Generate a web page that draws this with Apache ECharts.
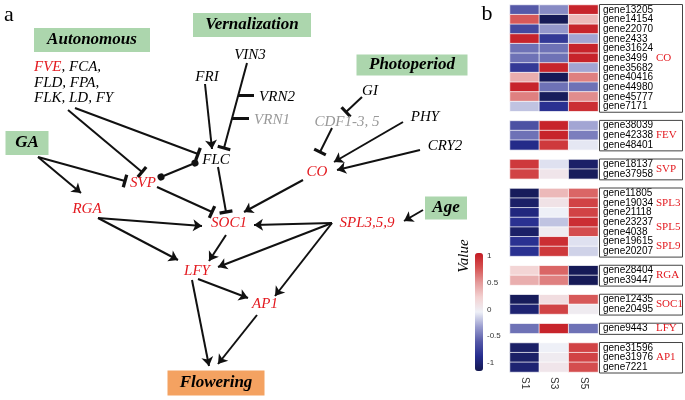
<!DOCTYPE html>
<html>
<head>
<meta charset="utf-8">
<script src="https://cdn.jsdelivr.net/npm/echarts@6/dist/echarts.min.js"></script>
<style>
  html, body { margin: 0; padding: 0; background: #fff; }
  #chart { width: 685px; height: 400px; }
</style>
</head>
<body>
<div id="chart"></div>
<script>
// ---------- panel b : heatmap ----------
const samples = ['S1', 'S3', 'S5'];
const genes = [
  'gene13205', 'gene14154', 'gene22070', 'gene2433', 'gene31624', 'gene3499',
  'gene35682', 'gene40416', 'gene44980', 'gene45777', 'gene7171',
  'gene38039', 'gene42338', 'gene48401',
  'gene18137', 'gene37958',
  'gene11805', 'gene19034', 'gene21118', 'gene23237', 'gene4038', 'gene19615', 'gene20207',
  'gene28404', 'gene39447',
  'gene12435', 'gene20495',
  'gene9443',
  'gene31596', 'gene31976', 'gene7221'
];
const groupSizes = [11, 3, 2, 7, 2, 2, 1, 3];
const valS1 = [
  -0.6, 0.75, -0.7, 1.0, -0.5, -0.5, -0.8, 0.4, 1.0, 0.6, -0.2,
  -0.65, -0.5, -0.9,
  0.9, 0.85,
  -1.1, -1.05, -0.95, -0.85, -1.05, -0.85, -0.85,
  0.2, 0.4,
  -1.1, -1.0,
  -0.5,
  -1.05, -1.05, -1.0
];
const valS3 = [
  -0.4, -1.12, -0.35, -0.8, -0.5, -0.5, 1.0, -1.12, -0.5, -1.1, -0.85,
  1.0, 1.0, 0.9,
  -0.1, 0.05,
  0.35, 0.08, -0.05, -0.2, 0.0, 0.95, 0.9,
  0.7, 0.6,
  0.12, 0.85,
  1.0,
  -0.05, 0.0, 0.05
];
const valS5 = [
  1.0, 0.35, 1.0, -0.3, 1.0, 1.0, -0.3, 0.6, -0.5, 0.55, 0.95,
  -0.3, -0.45, -0.08,
  -1.05, -1.1,
  0.7, 0.85, 0.85, 0.95, 0.8, -0.1, -0.15,
  -1.12, -1.12,
  0.75, 0.0,
  -0.5,
  0.85, 0.85, 0.8
];
// pathway tags: label and the gene rows it sits between
const tagNames = ['CO', 'FEV', 'SVP', 'SPL3', 'SPL5', 'SPL9', 'RGA', 'SOC1', 'LFY', 'AP1'];
const tagRows = [[5, 5], [12, 12], [14, 15], [17, 17], [19, 20], [21, 22], [23, 24], [25, 26], [27, 27], [29, 29]];
const valueTicks = [-1, -0.5, 0, 0.5, 1];

// ---------- panel a : pathway diagram ----------
const nodeNames = ['FRI', 'VIN3', 'VRN2', 'VRN1', 'FLC', 'CDF1-3, 5', 'GI', 'PHY', 'CRY2',
  'CO', 'SVP', 'RGA', 'SOC1', 'SPL3,5,9', 'LFY', 'AP1'];
const nodeX = [207, 250, 277, 272, 216, 347, 370, 425, 445, 317, 143, 87, 229, 367, 197, 265];
const nodeY = [77, 55, 97, 120, 160, 122, 91, 117, 146, 172, 183, 209, 223, 223, 271, 304];
const nodeKind = ['k', 'k', 'k', 'g', 'k', 'g', 'k', 'k', 'k', 'r', 'r', 'r', 'r', 'r', 'r', 'r'];

const boxNames = ['Autonomous', 'Vernalization', 'Photoperiod', 'GA', 'Age', 'Flowering'];
const boxX = [92, 252, 412, 27, 446, 216];
const boxY = [40, 25, 65, 143, 208, 383];
const boxW = [116, 118, 111, 43, 42, 97];
const boxH = [24, 24, 21, 24, 23, 25];

const autoGenes = '{r|FVE}, FCA,\nFLD, FPA,\nFLK, LD, FY';

const arrowEdges = [
  [[38, 157], [81, 193]],
  [[205, 84], [212, 149]],
  [[98, 218], [202, 226]],
  [[98, 218], [178, 260]],
  [[226, 235], [209, 261]],
  [[192, 280], [209, 366]],
  [[198, 279], [248, 298]],
  [[257, 315], [218, 364]],
  [[303, 180], [244, 212]],
  [[332, 223], [254, 225]],
  [[332, 223], [218, 267]],
  [[332, 223], [275, 296]],
  [[423, 210], [404, 221]],
  [[403, 122], [334, 162]],
  [[420, 150], [337, 170]]
];
const blockEdges = [
  [[68, 110], [142, 172]],
  [[75, 108], [198, 154]],
  [[38, 157], [125, 181]],
  [[247, 63], [224, 148]],
  [[218, 167], [226, 212]],
  [[157, 187], [212, 212]],
  [[362, 97], [346, 112]],
  [[332, 128], [320, 152]]
];
const stubEdges = [
  [[238, 95], [254, 95]],
  [[232, 118], [249, 118]]
];
const dotEdges = [
  [[161, 177], [195, 163]]
];

const SERIF = 'Liberation Serif';
const SANS = 'Liberation Sans';
const RED = '#e3191f';

// build heatmap rows with a blank row between groups
const yCats = [];
const rowOf = [];
let gi = 0;
groupSizes.forEach((n, g) => {
  for (let k = 0; k < n; k++) {
    rowOf.push(yCats.length);
    yCats.push(genes[gi++]);
  }
  if (g < groupSizes.length - 1) yCats.push('_gap' + g);
});
const heatData = [];
[valS1, valS3, valS5].forEach((vals, j) => {
  vals.forEach((v, i) => heatData.push([j, rowOf[i], v]));
});
const boxRows = [];
let start = 0;
groupSizes.forEach(n => {
  boxRows.push([2, rowOf[start], rowOf[start + n - 1]]);
  start += n;
});

const chart = echarts.init(document.getElementById('chart'));

const TBAR = 'path://M0,0 M12,12 M0,4.5 L12,4.5 L12,7.5 L0,7.5 Z';
const lineBase = {
  type: 'lines',
  coordinateSystem: 'cartesian2d',
  xAxisIndex: 0,
  yAxisIndex: 0,
  silent: true,
  lineStyle: { color: '#111', width: 2, opacity: 1 }
};

const colorNode = { k: '#000', g: '#999', r: RED };
const plainText = { textBorderWidth: 0, opacity: 1 };

const series = [
  Object.assign({}, lineBase, {
    symbol: ['none', 'arrow'], symbolSize: 9,
    data: arrowEdges.map(c => ({ coords: c }))
  }),
  Object.assign({}, lineBase, {
    symbol: ['none', TBAR], symbolSize: 13,
    data: blockEdges.map(c => ({ coords: c }))
  }),
  Object.assign({}, lineBase, {
    symbol: ['none', 'none'],
    lineStyle: { color: '#111', width: 3, opacity: 1 },
    data: stubEdges.map(c => ({ coords: c }))
  }),
  Object.assign({}, lineBase, {
    symbol: ['circle', 'circle'], symbolSize: 7,
    data: dotEdges.map(c => ({ coords: c }))
  }),
  {
    // gene names in the diagram
    type: 'scatter',
    xAxisIndex: 0, yAxisIndex: 0,
    symbolSize: 0,
    silent: true,
    z: 5,
    itemStyle: { opacity: 1 },
    label: Object.assign({
      show: true, position: 'inside', formatter: '{b}',
      fontFamily: SERIF, fontStyle: 'italic', fontSize: 15
    }, plainText),
    data: nodeNames.map((n, i) => ({
      name: n, value: [nodeX[i], nodeY[i]],
      label: { color: colorNode[nodeKind[i]] }
    })).concat([{
      name: 'auto', value: [34, 83],
      label: {
        formatter: autoGenes, align: 'left', color: '#000', lineHeight: 15.5,
        rich: { r: { color: RED, fontFamily: SERIF, fontStyle: 'italic', fontSize: 15, textBorderWidth: 0 } }
      }
    }])
  },
  {
    // pathway boxes
    type: 'scatter',
    xAxisIndex: 0, yAxisIndex: 0,
    symbolSize: 0,
    silent: true,
    z: 5,
    itemStyle: { opacity: 1 },
    label: Object.assign({
      show: true, position: 'inside', formatter: '{b}',
      fontFamily: SERIF, fontStyle: 'italic', fontWeight: 'bold', fontSize: 17,
      color: '#000', align: 'center', verticalAlign: 'middle', padding: 0
    }, plainText),
    data: boxNames.map((n, i) => ({
      name: n, value: [boxX[i], boxY[i]],
      label: {
        width: boxW[i], height: boxH[i], lineHeight: boxH[i],
        backgroundColor: n === 'Flowering' ? '#f4a261' : '#acd6ad'
      }
    }))
  },
  {
    // panel letters and colour bar title
    type: 'scatter',
    xAxisIndex: 0, yAxisIndex: 0,
    symbolSize: 0,
    silent: true,
    itemStyle: { opacity: 1 },
    label: Object.assign({ show: true, position: 'inside', formatter: '{b}', fontFamily: SERIF, color: '#000' }, plainText),
    data: [
      { name: 'a', value: [9, 15], label: { fontSize: 22 } },
      { name: 'b', value: [487, 14], label: { fontSize: 22 } },
      { name: 'Value', value: [464, 256], label: { fontSize: 15, fontStyle: 'italic', rotate: 90 } }
    ]
  },
  {
    type: 'heatmap',
    xAxisIndex: 1, yAxisIndex: 1,
    silent: true,
    itemStyle: { borderColor: '#fff', borderWidth: 0.7 },
    data: heatData
  },
  {
    type: 'custom',
    xAxisIndex: 1, yAxisIndex: 1,
    silent: true,
    encode: { x: 0, y: 1 },
    data: boxRows,
    renderItem: (params, api) => {
      const a = api.coord([2, api.value(1)]);
      const b = api.coord([2, api.value(2)]);
      const band = api.size([0, 1])[1];
      const cell = api.size([1, 0])[0];
      return {
        type: 'rect',
        shape: { x: a[0] + cell / 2 + 1.5, y: a[1] - band / 2 - 0.5, width: 83, height: b[1] - a[1] + band + 1.5 },
        style: { fill: 'none', stroke: '#444', lineWidth: 1 }
      };
    }
  },
  {
    type: 'custom',
    xAxisIndex: 1, yAxisIndex: 1,
    silent: true,
    encode: { x: 0, y: 1 },
    data: tagRows.map(r => [2, rowOf[r[0]], rowOf[r[1]]]),
    renderItem: (params, api) => {
      const a = api.coord([2, api.value(1)]);
      const b = api.coord([2, api.value(2)]);
      const cell = api.size([1, 0])[0];
      return {
        type: 'text',
        style: {
          x: a[0] + cell / 2 + 58, y: (a[1] + b[1]) / 2,
          text: tagNames[params.dataIndex],
          fill: RED, font: '11px "' + SERIF + '"',
          align: 'left', verticalAlign: 'middle'
        }
      };
    }
  }
];
const heatIndex = series.findIndex(s => s.type === 'heatmap');

chart.setOption({
  animation: false,
  backgroundColor: '#fff',
  grid: [
    { left: 0, top: 0, width: 685, height: 400 },
    { left: 510, top: 5, width: 88, height: 367 },
    { left: 475, top: 253, width: 8, height: 118 }
  ],
  xAxis: [
    { gridIndex: 0, type: 'value', min: 0, max: 685, show: false },
    {
      gridIndex: 1, type: 'category', data: samples,
      axisLine: { show: false }, axisTick: { show: false },
      axisLabel: { rotate: -90, fontSize: 10, color: '#333', margin: 5, fontFamily: SANS }
    },
    { gridIndex: 2, type: 'value', min: 0, max: 1, show: false }
  ],
  yAxis: [
    { gridIndex: 0, type: 'value', min: 0, max: 400, inverse: true, show: false },
    {
      gridIndex: 1, type: 'category', data: yCats, inverse: true, position: 'right',
      axisLine: { show: false }, axisTick: { show: false }, splitLine: { show: false },
      axisLabel: {
        interval: 0, fontSize: 10, color: '#000', margin: 5, fontFamily: SANS,
        formatter: v => (v.indexOf('_gap') === 0 ? '' : v)
      }
    },
    {
      gridIndex: 2, type: 'value', min: -1.15, max: 1.05, position: 'right',
      axisLine: { show: false }, axisTick: { show: false }, splitLine: { show: false },
      axisLabel: { customValues: valueTicks, fontSize: 8, color: '#333', margin: 4, fontFamily: SANS }
    }
  ],
  visualMap: {
    type: 'continuous',
    seriesIndex: heatIndex,
    min: -1.15, max: 1.05,
    calculable: false,
    orient: 'vertical',
    left: 475, top: 253,
    itemWidth: 8, itemHeight: 118,
    padding: 0,
    inRange: {
      color: ['#141850', '#262d8f', '#5559a8', '#9a9dcf', '#eef0f7', '#f3d2d2', '#e49a9a', '#d65252', '#c41a22']
    }
  },
  series: series
});
</script>
</body>
</html>
